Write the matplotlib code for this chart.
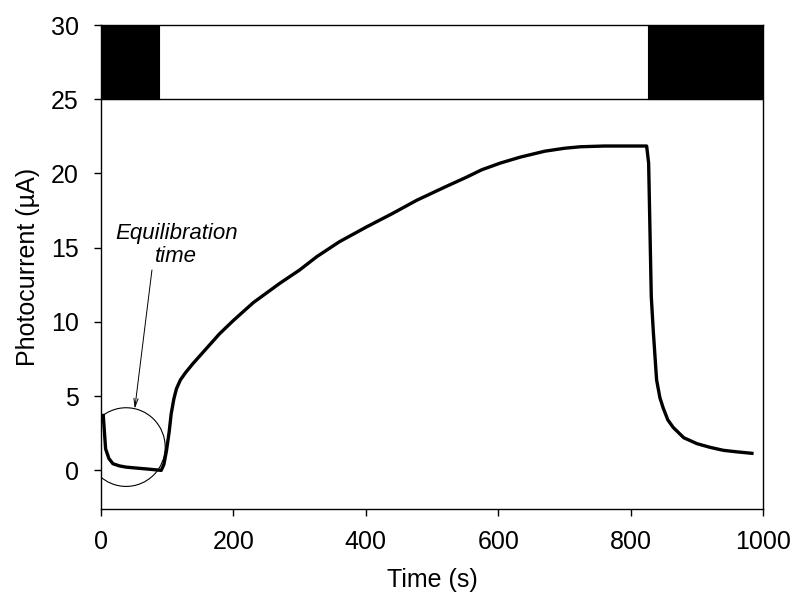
import matplotlib.pyplot as plt
from matplotlib.patches import Ellipse, Rectangle

plt.rcParams['font.family'] = ['Liberation Sans', 'DejaVu Sans']

# photocurrent trace
time_s = [3.5, 7, 12, 18, 28, 38, 55, 68, 80, 91, 95, 99, 103, 106, 110, 114,
          120, 128, 139, 155, 179, 200, 230, 270, 300, 326, 360, 401, 440, 477,
          520, 552, 575, 603, 633, 670, 700, 724, 760, 800, 824,
          827, 831, 834, 839, 844, 849, 856, 864, 880, 900, 920, 940, 960, 983]
current_ua = [3.7, 1.45, 0.8, 0.45, 0.3, 0.22, 0.15, 0.1, 0.05, 0.0, 0.4, 1.35,
              2.6, 3.8, 4.8, 5.5, 6.1, 6.6, 7.2, 8.0, 9.2, 10.1, 11.3, 12.6,
              13.5, 14.4, 15.4, 16.4, 17.3, 18.2, 19.1, 19.75, 20.25, 20.7, 21.1,
              21.5, 21.7, 21.8, 21.85, 21.85, 21.85,
              20.7, 11.7, 9.4, 6.1, 4.9, 4.2, 3.4, 2.9, 2.2, 1.8, 1.55, 1.35,
              1.25, 1.15]

# light-off periods (black boxes in top band)
dark_periods = [(0, 87), (826, 1000)]
band_low, band_high = 25, 30

x_ticks = [0, 200, 400, 600, 800, 1000]
y_ticks = [0, 5, 10, 15, 20, 25, 30]

fig = plt.figure(figsize=(7.95, 5.96), dpi=100)
ax = fig.add_axes([0.127, 0.146, 0.833, 0.812])

for start, stop in dark_periods:
    ax.add_patch(Rectangle((start, band_low), stop - start, band_high - band_low,
                           facecolor='black', edgecolor='black', lw=0.8))
ax.axhline(band_low, color='black', lw=1)

ax.plot(time_s, current_ua, color='black', lw=2.4, solid_joinstyle='round')

ax.add_patch(Ellipse((38, 1.57), 118, 5.3, fill=False, edgecolor='black', lw=0.8))
ax.text(114, 15.2, 'Equilibration\ntime', ha='center', va='center',
        fontsize=16, style='italic', linespacing=1.1)
ax.annotate('', xy=(51, 4.15), xytext=(77, 13.5),
            arrowprops=dict(arrowstyle='->,head_length=0.6,head_width=0.15',
                            color='black', lw=0.7, shrinkA=0, shrinkB=0))

ax.set_xlim(0, 1000)
ax.set_ylim(-2.6, 30)
ax.set_xticks(x_ticks)
ax.set_yticks(y_ticks)
ax.tick_params(direction='out', length=5, width=1, labelsize=18, pad=10,
               top=False, right=False)
ax.tick_params(axis='y', pad=11)
for sp in ax.spines.values():
    sp.set_linewidth(1)

ax.set_xlabel('Time (s)', fontsize=18, labelpad=10)
ax.set_ylabel('Photocurrent (µA)', fontsize=18, labelpad=8)

fig.savefig('out.png', dpi=100)
